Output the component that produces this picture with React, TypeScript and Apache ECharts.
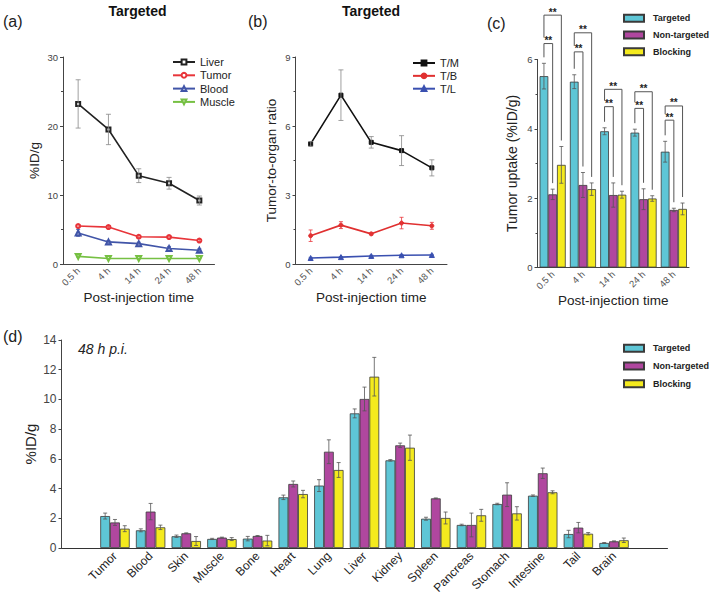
import React, { useEffect, useRef } from 'react';
import * as echarts from 'echarts';

const FONT = '"Liberation Sans", Arial, Helvetica, sans-serif';

// ---------- Panel (a): Targeted biodistribution over time ----------
const timeLabels = ['0.5 h', '4 h', '14 h', '24 h', '48 h'];
const liverMean = [23.2, 19.5, 12.8, 11.7, 9.2];
const liverErr = [3.5, 2.2, 1.0, 0.85, 0.65];
const tumorMean = [5.5, 5.35, 3.95, 3.9, 3.4];
const tumorErr = [0.2, 0.15, 0.15, 0.15, 0.15];
const bloodMean = [4.5, 3.2, 2.95, 2.25, 2.0];
const bloodErr = [0.5, 0.2, 0.2, 0.3, 0.2];
const muscleMean = [1.1, 0.8, 0.8, 0.8, 0.8];
const muscleErr = [0.1, 0.05, 0.05, 0.05, 0.05];

// ---------- Panel (b): Tumor-to-organ ratio ----------
const tmMean = [5.22, 7.34, 5.29, 4.93, 4.18];
const tmErr = [0.1, 1.1, 0.25, 0.65, 0.35];
const tbMean = [1.23, 1.69, 1.31, 1.78, 1.66];
const tbErr = [0.25, 0.15, 0.05, 0.25, 0.15];
const tlMean = [0.26, 0.3, 0.35, 0.38, 0.39];
const tlErr = [0.03, 0.03, 0.03, 0.03, 0.03];

// ---------- Panel (c): Tumor uptake ----------
const upT = [5.52, 5.36, 3.93, 3.89, 3.34];
const upTErr = [0.37, 0.2, 0.1, 0.1, 0.3];
const upN = [2.11, 2.38, 2.09, 1.97, 1.66];
const upNErr = [0.15, 0.36, 0.35, 0.3, 0.05];
const upB = [2.96, 2.26, 2.1, 1.99, 1.69];
const upBErr = [0.53, 0.18, 0.1, 0.08, 0.17];
const bracketInner = [6.46, 6.22, 4.64, 4.59, 4.25];
const bracketOuter = [7.28, 6.77, 5.14, 5.07, 4.66];
const sigLabel = '**';

// ---------- Panel (d): 48 h p.i. biodistribution ----------
const organs = ['Tumor', 'Blood', 'Skin', 'Muscle', 'Bone', 'Heart', 'Lung', 'Liver', 'Kidney', 'Spleen', 'Pancreas', 'Stomach', 'Intestine', 'Tail', 'Brain'];
const bioT = [2.15, 1.19, 0.79, 0.61, 0.63, 3.41, 4.2, 9.06, 5.9, 1.97, 1.55, 2.96, 3.52, 0.94, 0.34];
const bioTErr = [0.2, 0.1, 0.08, 0.04, 0.15, 0.15, 0.4, 0.3, 0.05, 0.1, 0.05, 0.05, 0.05, 0.25, 0.03];
const bioN = [1.72, 2.45, 0.99, 0.7, 0.81, 4.31, 6.48, 10.03, 6.91, 3.34, 1.55, 3.59, 5.03, 1.37, 0.45];
const bioNErr = [0.2, 0.55, 0.03, 0.03, 0.03, 0.2, 0.8, 0.8, 0.15, 0.03, 0.8, 0.8, 0.35, 0.35, 0.03];
const bioB = [1.3, 1.39, 0.47, 0.6, 0.5, 3.63, 5.25, 11.53, 6.75, 2.02, 2.2, 2.33, 3.75, 0.96, 0.52];
const bioBErr = [0.2, 0.15, 0.3, 0.1, 0.35, 0.25, 0.5, 1.3, 0.85, 0.4, 0.4, 0.45, 0.1, 0.08, 0.15];
const organAxis = ['', ...organs, ''];

const groupNames = ['Targeted', 'Non-targeted', 'Blocking'];
const CYAN = '#5EC6D6';
const MAGENTA = '#B0479F';
const YELLOW = '#F4EA1E';
const BAR_BORDER = '#3a3a3a';

function errSeries(xAxisIndex: number, yAxisIndex: number, means: number[], errs: number[], color: string, offsetPx: number, capHalf: number, shift = 0) {
  return {
    type: 'custom',
    name: 'err',
    xAxisIndex,
    yAxisIndex,
    z: 5,
    silent: true,
    data: means.map((m, i) => [i + shift, m, errs[i]]),
    renderItem: (_p: any, api: any) => {
      const x = api.value(0);
      const m = api.value(1);
      const e = api.value(2);
      const top = api.coord([x, m + e]);
      const bot = api.coord([x, m - e]);
      const cx = top[0] + offsetPx;
      const style = { stroke: color, lineWidth: 0.8, fill: null };
      return {
        type: 'group',
        children: [
          { type: 'line', shape: { x1: cx, y1: top[1], x2: cx, y2: bot[1] }, style },
          { type: 'line', shape: { x1: cx - capHalf, y1: top[1], x2: cx + capHalf, y2: top[1] }, style },
          { type: 'line', shape: { x1: cx - capHalf, y1: bot[1], x2: cx + capHalf, y2: bot[1] }, style },
        ],
      };
    },
  };
}

function timeXAxis(gridIndex: number) {
  return {
    type: 'category',
    gridIndex,
    data: timeLabels,
    boundaryGap: true,
    axisLine: { lineStyle: { color: '#444', width: 1 } },
    axisTick: { alignWithLabel: true, length: 3, lineStyle: { color: '#444' } },
    axisLabel: { rotate: 45, fontSize: 9.5, color: '#555', margin: 5, fontFamily: FONT, interval: 0 },
    name: 'Post-injection time',
    nameLocation: 'middle',
    nameGap: 22,
    nameTextStyle: { fontSize: 13.5, color: '#222', fontFamily: FONT },
  };
}

function valYAxis(gridIndex: number, max: number, interval: number, name: string, nameGap: number, nameSize: number, labelSize: number, minor: boolean) {
  return {
    type: 'value',
    gridIndex,
    min: 0,
    max,
    interval,
    splitLine: { show: false },
    axisLine: { show: true, lineStyle: { color: '#444', width: 1 } },
    axisTick: { show: true, length: 3, lineStyle: { color: '#444' } },
    minorTick: { show: minor, splitNumber: 2, length: 2, lineStyle: { color: '#444' } },
    axisLabel: { fontSize: labelSize, color: '#444', margin: 5, fontFamily: FONT },
    name,
    nameLocation: 'middle',
    nameGap,
    nameMoveOverlap: false,
    nameTextStyle: { fontSize: nameSize, color: '#222', fontFamily: FONT },
  };
}

function lineSeries(name: string, gi: number, data: number[], color: string, symbol: string, size: number, rotate = 0) {
  return {
    type: 'line',
    name,
    xAxisIndex: gi,
    yAxisIndex: gi,
    data,
    symbol,
    symbolSize: size,
    symbolRotate: rotate,
    showSymbol: true,
    z: 4,
    lineStyle: { color, width: 1.6 },
    itemStyle: { color, borderColor: color, borderWidth: 1 },
  };
}

function barSeries(name: string, gi: number, data: number[], color: string, width: number) {
  return {
    type: 'bar',
    name,
    xAxisIndex: gi,
    yAxisIndex: gi,
    data,
    barWidth: width,
    barGap: '0%',
    z: 2,
    itemStyle: { color, borderColor: BAR_BORDER, borderWidth: 0.8 },
  };
}

const C_BW = 8.7;
const D_BW = 9.8;

const bracketSeries = {
  type: 'custom',
  name: 'brackets',
  xAxisIndex: 2,
  yAxisIndex: 2,
  z: 6,
  silent: true,
  clip: false,
  data: timeLabels.map((_, i) => [i, upT[i] + upTErr[i], upN[i] + upNErr[i], upB[i] + upBErr[i], bracketInner[i], bracketOuter[i]]),
  renderItem: (_p: any, api: any) => {
    const i = api.value(0);
    const c = api.coord([i, 0])[0];
    const xT = c - C_BW;
    const xN = c;
    const xB = c + C_BW;
    const yT = api.coord([i, api.value(1)])[1];
    const yN = api.coord([i, api.value(2)])[1];
    const yB = api.coord([i, api.value(3)])[1];
    const yIn = api.coord([i, api.value(4)])[1];
    const yOut = api.coord([i, api.value(5)])[1];
    const gap = 6;
    const st = { stroke: '#555', lineWidth: 1, fill: null };
    const ts = { text: sigLabel, fontSize: 10, fontWeight: 'bold', fontFamily: FONT, fill: '#222', align: 'center', verticalAlign: 'bottom' };
    return {
      type: 'group',
      children: [
        { type: 'polyline', shape: { points: [[xT, yT - gap], [xT, yIn], [xN, yIn], [xN, yN - gap]] }, style: st },
        { type: 'polyline', shape: { points: [[xT, yIn - gap], [xT, yOut], [xB, yOut], [xB, yB - gap]] }, style: st },
        { type: 'text', style: { ...ts, x: (xT + xN) / 2, y: yIn + 2 } },
        { type: 'text', style: { ...ts, x: (xT + xB) / 2, y: yOut + 2 } },
      ],
    };
  },
};

const option: any = {
  animation: false,
  backgroundColor: '#fff',
  textStyle: { fontFamily: FONT },
  grid: [
    { left: 63, top: 57, width: 151.5, height: 207 },
    { left: 295.5, top: 57, width: 151.5, height: 207 },
    { left: 537.5, top: 59.5, width: 151.5, height: 208 },
    { left: 61.5, top: 340, width: 606, height: 208 },
  ],
  xAxis: [
    timeXAxis(0),
    timeXAxis(1),
    timeXAxis(2),
    {
      type: 'category',
      gridIndex: 3,
      data: organAxis,
      boundaryGap: true,
      axisLine: { lineStyle: { color: '#333', width: 1 } },
      axisTick: { alignWithLabel: true, length: 3, interval: 0, lineStyle: { color: '#333' } },
      axisLabel: { rotate: 45, fontSize: 12, color: '#222', margin: 6, fontFamily: FONT, interval: 0 },
    },
  ],
  yAxis: [
    valYAxis(0, 30, 10, '%ID/g', 22, 13.5, 9.5, true),
    valYAxis(1, 9, 3, 'Tumor-to-organ ratio', 17, 13.5, 9.5, true),
    valYAxis(2, 6, 2, 'Tumor uptake (%ID/g)', 19, 14, 9.5, true),
    valYAxis(3, 14, 2, '%ID/g', 24, 15, 12, false),
  ],
  legend: [
    {
      data: ['Liver', 'Tumor', 'Blood', 'Muscle'],
      orient: 'vertical', left: 167, top: 51, itemWidth: 22, itemHeight: 6, itemGap: 1.3, selectedMode: false,
      textStyle: { fontSize: 11, lineHeight: 12, color: '#222', fontFamily: FONT },
    },
    {
      data: ['T/M', 'T/B', 'T/L'],
      orient: 'vertical', left: 407, top: 52, itemWidth: 22, itemHeight: 6, itemGap: 0.85, selectedMode: false,
      textStyle: { fontSize: 11, lineHeight: 12, color: '#222', fontFamily: FONT },
    },
    {
      data: groupNames,
      orient: 'vertical', left: 618, top: 7.3, itemWidth: 20, itemHeight: 7, itemGap: 4.7, selectedMode: false, icon: 'rect',
      textStyle: { fontSize: 9, fontWeight: 'bold', lineHeight: 12, color: '#222', fontFamily: FONT, padding: [0, 0, 0, 4] },
    },
    {
      data: groupNames,
      orient: 'vertical', left: 618, top: 337.3, itemWidth: 20, itemHeight: 7, itemGap: 5.7, selectedMode: false, icon: 'rect',
      textStyle: { fontSize: 9, fontWeight: 'bold', lineHeight: 12, color: '#222', fontFamily: FONT, padding: [0, 0, 0, 4] },
    },
  ],
  graphic: [
    { type: 'text', x: 3, y: 21, style: { text: '(a)', fontSize: 16, fontFamily: FONT, fill: '#222', verticalAlign: 'middle' } },
    { type: 'text', x: 137.5, y: 11, style: { text: 'Targeted', fontSize: 14, fontWeight: 'bold', fontFamily: FONT, fill: '#111', align: 'center', verticalAlign: 'middle' } },
    { type: 'text', x: 248, y: 21, style: { text: '(b)', fontSize: 16, fontFamily: FONT, fill: '#222', verticalAlign: 'middle' } },
    { type: 'text', x: 371, y: 11, style: { text: 'Targeted', fontSize: 14, fontWeight: 'bold', fontFamily: FONT, fill: '#111', align: 'center', verticalAlign: 'middle' } },
    { type: 'text', x: 487, y: 23, style: { text: '(c)', fontSize: 16, fontFamily: FONT, fill: '#222', verticalAlign: 'middle' } },
    { type: 'text', x: 3, y: 336, style: { text: '(d)', fontSize: 16, fontFamily: FONT, fill: '#222', verticalAlign: 'middle' } },
    { type: 'text', x: 78, y: 349, style: { text: '48 h p.i.', fontSize: 14, fontStyle: 'italic', fontFamily: FONT, fill: '#222', verticalAlign: 'middle' } },
  ],
  series: [
    // (a)
    errSeries(0, 0, liverMean, liverErr, '#888', 0, 2.5),
    errSeries(0, 0, tumorMean, tumorErr, '#E8353A', 0, 2),
    errSeries(0, 0, bloodMean, bloodErr, '#4155A8', 0, 2),
    errSeries(0, 0, muscleMean, muscleErr, '#76C043', 0, 2),
    lineSeries('Liver', 0, liverMean, '#222', 'emptyRect', 4),
    lineSeries('Tumor', 0, tumorMean, '#E8353A', 'emptyCircle', 4),
    lineSeries('Blood', 0, bloodMean, '#4155A8', 'emptyTriangle', 5),
    lineSeries('Muscle', 0, muscleMean, '#76C043', 'emptyTriangle', 5, 180),
    // (b)
    errSeries(1, 1, tmMean, tmErr, '#888', 0, 2.5),
    errSeries(1, 1, tbMean, tbErr, '#E8353A', 0, 2),
    errSeries(1, 1, tlMean, tlErr, '#3A50B0', 0, 2),
    lineSeries('T/M', 1, tmMean, '#111', 'rect', 4),
    lineSeries('T/B', 1, tbMean, '#E03030', 'circle', 4),
    lineSeries('T/L', 1, tlMean, '#3A50B0', 'triangle', 5),
    // (c)
    barSeries('Targeted', 2, upT, CYAN, C_BW),
    barSeries('Non-targeted', 2, upN, MAGENTA, C_BW),
    barSeries('Blocking', 2, upB, YELLOW, C_BW),
    errSeries(2, 2, upT, upTErr, '#555', -C_BW, 2),
    errSeries(2, 2, upN, upNErr, '#555', 0, 2),
    errSeries(2, 2, upB, upBErr, '#555', C_BW, 2),
    bracketSeries,
    // (d)
    barSeries('Targeted', 3, [null, ...bioT, null] as any, CYAN, D_BW),
    barSeries('Non-targeted', 3, [null, ...bioN, null] as any, MAGENTA, D_BW),
    barSeries('Blocking', 3, [null, ...bioB, null] as any, YELLOW, D_BW),
    errSeries(3, 3, bioT, bioTErr, '#555', -D_BW, 2, 1),
    errSeries(3, 3, bioN, bioNErr, '#555', 0, 2, 1),
    errSeries(3, 3, bioB, bioBErr, '#555', D_BW, 2, 1),
  ],
};

export default function App() {
  const ref = useRef<HTMLDivElement>(null);
  useEffect(() => {
    const chart = echarts.init(ref.current!, null, { renderer: 'svg' });
    chart.setOption(option);
    return () => chart.dispose();
  }, []);
  return (
    <div
      ref={ref}
      style={{ position: 'absolute', left: 0, top: 0, width: 714, height: 598, background: '#fff' }}
    />
  );
}
